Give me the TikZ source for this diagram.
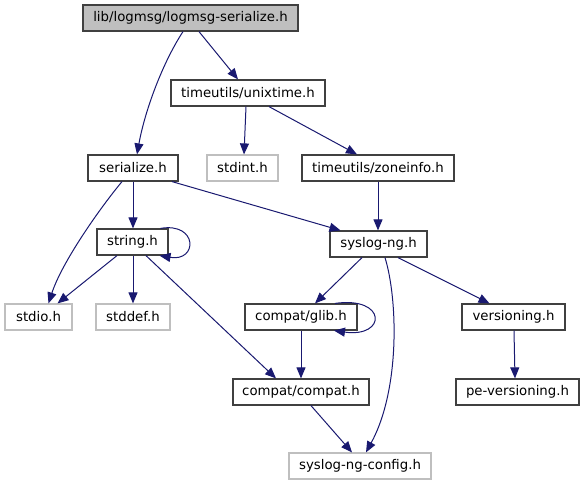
\documentclass[tikz,border=0pt]{standalone}
\usepackage{fontspec}
\setmainfont{DejaVu Sans}
\usetikzlibrary{arrows.meta}
\definecolor{edgeblue}{RGB}{25,25,112}
\definecolor{boxgrey}{RGB}{191,191,191}
\definecolor{boxline}{RGB}{64,64,64}
\tikzset{
  box/.style={draw=boxline, line width=1.2pt, fill=white, inner sep=0pt, minimum height=26pt, font=\fontsize{13.3}{16}\selectfont},
  rootbox/.style={box, fill=boxgrey},
  extbox/.style={box, draw=boxgrey},
  edge/.style={draw=edgeblue, line width=1pt, -{Triangle[length=11pt,width=9pt]}}
}
\begin{document}
\begin{tikzpicture}[x=1pt,y=-1pt]
\useasboundingbox (0,0) rectangle (584,485);
\node[rootbox, minimum width=215pt] (root) at (190.5,18) {lib/logmsg/logmsg-serialize.h};
\node[box, minimum width=154pt] (unix) at (248,93) {timeutils/unixtime.h};
\node[box, minimum width=90pt] (ser) at (133,168) {serialize.h};
\node[extbox, minimum width=71pt] (stdint) at (242.5,168) {stdint.h};
\node[box, minimum width=152pt] (zone) at (378,168) {timeutils/zoneinfo.h};
\node[box, minimum width=97pt] (syslog) at (378.5,244) {syslog-ng.h};
\node[box, minimum width=71pt] (string) at (132.5,242) {string.h};
\node[extbox, minimum width=67pt] (stdio) at (38.5,317) {stdio.h};
\node[extbox, minimum width=74pt] (stddef) at (133,317) {stddef.h};
\node[box, minimum width=112pt] (glib) at (301,317) {compat/glib.h};
\node[box, minimum width=103pt] (vers) at (513.5,317) {versioning.h};
\node[box, minimum width=136pt] (compat) at (301,392) {compat/compat.h};
\node[box, minimum width=123pt] (pe) at (517.5,392) {pe-versioning.h};
\node[extbox, minimum width=142pt] (config) at (360,466) {syslog-ng-config.h};

\draw[edge] ([xshift=-7.5pt]root.south) .. controls (163,62) and (145,110) .. ([xshift=4pt]ser.north);
\draw[edge] ([xshift=8.5pt]root.south) -- ([xshift=-10pt]unix.north);
\draw[edge] ([xshift=-2pt]unix.south) -- ([xshift=1.5pt]stdint.north);
\draw[edge] ([xshift=21pt]unix.south) -- ([xshift=-21pt]zone.north);
\draw[edge] ([xshift=-11pt]ser.south) .. controls (100,208) and (62,262) .. ([xshift=10pt]stdio.north);
\draw[edge] (ser.south) -- ([xshift=0.5pt]string.north);
\draw[edge] ([xshift=39pt]ser.south) -- ([xshift=-38pt]syslog.north);
\draw[edge] ([xshift=28pt]string.north) .. controls (198,222) and (198,262) .. ([xshift=27pt]string.south);
\draw[edge] ([xshift=-15.5pt]string.south) -- ([xshift=19pt]stdio.north);
\draw[edge] ([xshift=0.5pt]string.south) -- (stddef.north);
\draw[edge] ([xshift=13.5pt]string.south) -- ([xshift=-25pt]compat.north);
\draw[edge] (zone.south) -- ([xshift=-0.5pt]syslog.north);
\draw[edge] ([xshift=-16.5pt]syslog.south) -- ([xshift=14pt]glib.north);
\draw[edge] ([xshift=6.5pt]syslog.south) .. controls (398,300) and (400,390) .. ([xshift=6pt]config.north);
\draw[edge] ([xshift=19.5pt]syslog.south) -- ([xshift=-24pt]vers.north);
\draw[edge] ([xshift=34pt]glib.north) .. controls (387,296) and (387,338) .. ([xshift=33pt]glib.south);
\draw[edge] (glib.south) -- (compat.north);
\draw[edge] ([xshift=0.5pt]vers.south) -- ([xshift=-2.5pt]pe.north);
\draw[edge] ([xshift=10pt]compat.south) -- ([xshift=-8pt]config.north);
\end{tikzpicture}
\end{document}
